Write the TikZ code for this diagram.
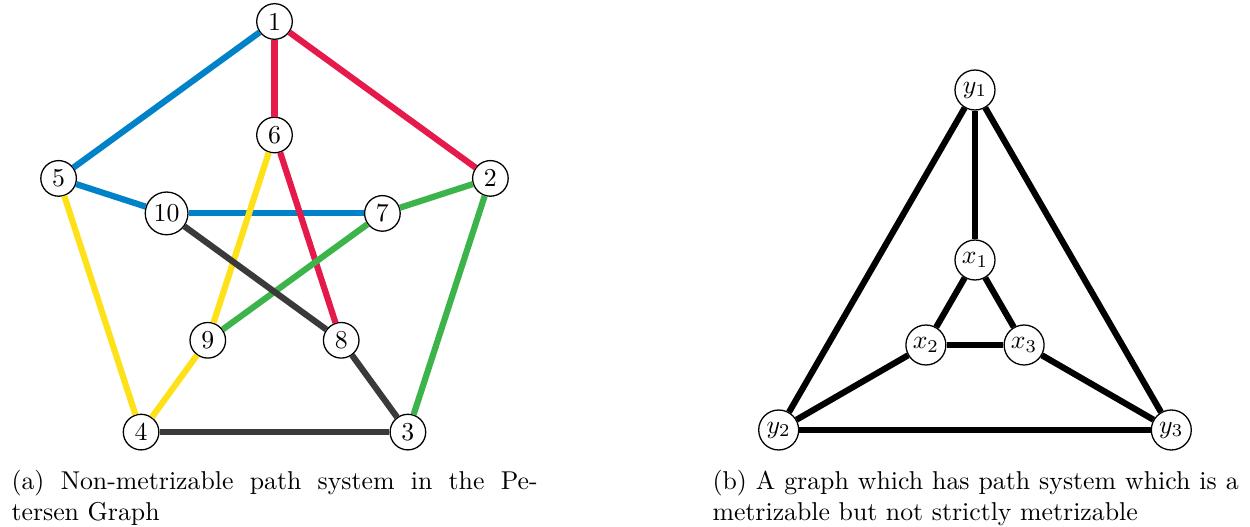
\documentclass[tikz,border=0pt]{standalone}
\usepackage{xcolor}
\definecolor{cblue}{HTML}{0082C8}
\definecolor{cred}{HTML}{E6194B}
\definecolor{cgreen}{HTML}{3CB44B}
\definecolor{cyellow}{HTML}{FFE119}
\definecolor{cgray}{HTML}{3A3A3A}
\begin{document}
\begin{tikzpicture}[x=0.01362cm,y=-0.01362cm,
  pnode/.style={circle,draw,line width=0.5pt,fill=white,minimum size=13.8pt,inner sep=1.6pt,font=\normalsize},
  gnode/.style={circle,draw,line width=0.5pt,fill=white,minimum size=15.5pt,inner sep=0pt},
  edge/.style={line width=2.4pt},
  captext/.style={anchor=base west,inner sep=0pt}]
\useasboundingbox (0,0) rectangle (1250,527);
% Petersen graph
\node[pnode] (p1) at (274.5,21.5) {1};
\node[pnode] (p2) at (490.4,178.4) {2};
\node[pnode] (p3) at (407.9,432.1) {3};
\node[pnode] (p4) at (141.1,432.1) {4};
\node[pnode] (p5) at (58.6,178.4) {5};
\node[pnode] (p6) at (274.5,135) {6};
\node[pnode] (p7) at (382.4,213.4) {7};
\node[pnode] (p8) at (341.2,340.3) {8};
\node[pnode] (p9) at (207.8,340.3) {9};
\node[pnode] (p10) at (166.6,213.4) {10};
\draw[edge,cblue] (p1) -- (p5);
\draw[edge,cblue] (p5) -- (p10);
\draw[edge,cblue] (p10) -- (p7);
\draw[edge,cred] (p1) -- (p2);
\draw[edge,cred] (p1) -- (p6);
\draw[edge,cred] (p6) -- (p8);
\draw[edge,cgreen] (p2) -- (p7);
\draw[edge,cgreen] (p7) -- (p9);
\draw[edge,cgreen] (p2) -- (p3);
\draw[edge,cyellow] (p5) -- (p4);
\draw[edge,cyellow] (p4) -- (p9);
\draw[edge,cyellow] (p9) -- (p6);
\draw[edge,cgray] (p10) -- (p8);
\draw[edge,cgray] (p8) -- (p3);
\draw[edge,cgray] (p3) -- (p4);
% second graph
\node[gnode] (y1) at (975,90) {$y_1$};
\node[gnode] (y2) at (778.7,430) {$y_2$};
\node[gnode] (y3) at (1171.3,430) {$y_3$};
\node[gnode] (x1) at (975,260) {$x_1$};
\node[gnode] (x2) at (925.9,345) {$x_2$};
\node[gnode] (x3) at (1024.1,345) {$x_3$};
\draw[edge] (y1) -- (x1);
\draw[edge] (y1) -- (y2);
\draw[edge] (y1) -- (y3);
\draw[edge] (y2) -- (y3);
\draw[edge] (x1) -- (x2);
\draw[edge] (x1) -- (x3);
\draw[edge] (x2) -- (x3);
\draw[edge] (x2) -- (y2);
\draw[edge] (x3) -- (y3);
% captions
\node[captext] (ca1) at (11,490) {\makebox[204pt][s]{(a) Non-metrizable path system in the Pe-}};
\node[captext] (ca2) at (11,521) {tersen Graph};
\node[captext] (cb1) at (712,490) {\makebox[204pt][s]{(b) A graph which has path system which is a}};
\node[captext] (cb2) at (712,521) {metrizable but not strictly metrizable};
\end{tikzpicture}
\end{document}
